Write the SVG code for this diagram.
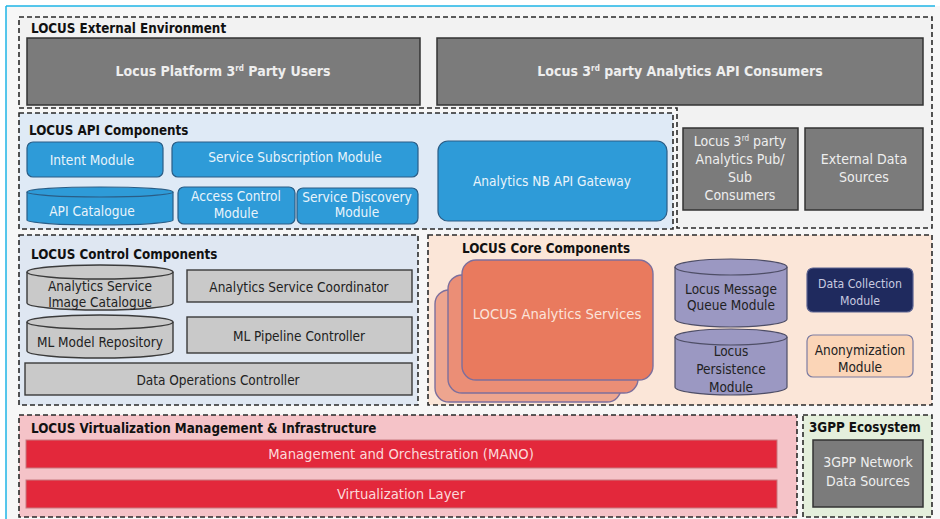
<svg xmlns="http://www.w3.org/2000/svg" width="940" height="519" viewBox="0 0 940 519">
<style>
text{font-family:"DejaVu Sans Condensed","Liberation Sans Narrow","Liberation Sans",sans-serif;text-anchor:middle}
.ttl{font-weight:bold;font-size:13.3px;fill:#111;text-anchor:start}
.grp{stroke:#2a2a2a;stroke-width:1.6;stroke-dasharray:5 3}
.dg{fill:#7b7b7b;stroke:#333;stroke-width:1.5}
.dgt{fill:#eeeeee;font-size:14px}
.blue{fill:#2e9bd8;stroke:#2a5d86;stroke-width:1.2}
.bt{fill:#e9f4fb;font-size:13.6px}
.lg{fill:#c9c9c9;stroke:#3a3a3a;stroke-width:1.4}
.lgt{fill:#222;font-size:13.5px}
.cyl{fill:#9b98c2;stroke:#4e4e66;stroke-width:1.2}
.red{fill:#e3283b;stroke:#c77a80;stroke-width:1}
.rt{fill:#fbd9da;font-size:14.7px}
.svc{stroke:#7d6f9c;stroke-width:1.4}
</style>
<rect x="0" y="0" width="940" height="519" fill="#ffffff"/>
<rect x="6" y="6" width="934" height="513" fill="#f7f7f7"/>
<line x1="6" y1="6" x2="935" y2="6" stroke="#1eb4e6" stroke-width="1.5"/>
<line x1="6" y1="6" x2="6" y2="519" stroke="#1eb4e6" stroke-width="1.5"/>

<g id="external-environment">
<path class="grp" d="M19,17 H932 V228 H677 V108 H19 Z" fill="#f2f2f2"/>
<text class="ttl" x="31" y="33" font-size="13">LOCUS External Environment</text>
</g>
<g id="platform-users">
<rect class="dg" x="27" y="38" width="393" height="67"/>
<text class="dgt" x="223" y="76" font-weight="bold" font-size="13">Locus Platform 3<tspan font-size="8" dy="-5">rd</tspan><tspan dy="5"> Party Users</tspan></text>
</g>
<g id="api-consumers">
<rect class="dg" x="437" y="38" width="486" height="67"/>
<text class="dgt" x="680" y="76" font-weight="bold" font-size="13">Locus 3<tspan font-size="8" dy="-5">rd</tspan><tspan dy="5"> party Analytics API Consumers</tspan></text>
</g>
<g id="pubsub-consumers">
<rect class="dg" x="683" y="128" width="115" height="82"/>
<text class="dgt" x="740" y="146" fill="#dddddd" font-size="13.5">Locus 3<tspan font-size="8" dy="-5">rd</tspan><tspan dy="5"> party</tspan></text>
<text class="dgt" x="740" y="164" fill="#dddddd" font-size="13.5">Analytics Pub/</text>
<text class="dgt" x="740" y="182" fill="#dddddd" font-size="13.5">Sub</text>
<text class="dgt" x="740" y="200" fill="#dddddd" font-size="13.5">Consumers</text>
</g>
<g id="external-data-sources">
<rect class="dg" x="805" y="128" width="118" height="82"/>
<text class="dgt" x="864" y="164" fill="#dddddd">External Data</text>
<text class="dgt" x="864" y="182" fill="#dddddd">Sources</text>
</g>

<g id="api-components">
<rect class="grp" x="19" y="113" width="654" height="116" fill="#dfeaf6"/>
<text class="ttl" x="29" y="135">LOCUS API Components</text>
</g>
<g id="intent-module">
<rect class="blue" x="27" y="142" width="136" height="35" rx="6"/>
<text class="bt" x="92" y="165">Intent Module</text>
</g>
<g id="service-subscription">
<rect class="blue" x="172" y="142" width="246" height="35" rx="6"/>
<text class="bt" x="295" y="162">Service Subscription Module</text>
</g>
<g id="api-catalogue">
<path class="blue" d="M27,192 A73,5 0 0 1 173,192 V220 A73,5 0 0 1 27,220 Z"/>
<path d="M27,192 A73,5 0 0 0 173,192" fill="none" stroke="#2a5d86" stroke-width="1.2"/>
<text class="bt" x="92" y="216">API Catalogue</text>
</g>
<g id="access-control">
<rect class="blue" x="178" y="187" width="117" height="37" rx="6"/>
<text class="bt" x="236" y="201">Access Control</text>
<text class="bt" x="236" y="218">Module</text>
</g>
<g id="service-discovery">
<rect class="blue" x="297" y="188" width="121" height="36" rx="6"/>
<text class="bt" x="357" y="202" font-size="10.5">Service Discovery</text>
<text class="bt" x="357" y="217" font-size="10.5">Module</text>
</g>
<g id="nb-api-gateway">
<rect class="blue" x="438" y="141" width="229" height="80" rx="10"/>
<text class="bt" x="552" y="186" font-size="15">Analytics NB API Gateway</text>
</g>

<g id="control-components">
<rect class="grp" x="19" y="235" width="399" height="170" fill="#dfe7f2"/>
<text class="ttl" x="31" y="259">LOCUS Control Components</text>
</g>
<g id="image-catalogue">
<path class="lg" d="M27,272 A73,7 0 0 1 173,272 V303 A73,7 0 0 1 27,303 Z"/>
<path d="M27,272 A73,7 0 0 0 173,272" fill="none" stroke="#3a3a3a" stroke-width="1.4"/>
<text class="lgt" x="100" y="291" font-size="12.5">Analytics Service</text>
<text class="lgt" x="100" y="307" font-size="12.5">Image Catalogue</text>
</g>
<g id="service-coordinator">
<rect class="lg" x="187" y="270" width="225" height="32"/>
<text class="lgt" x="299" y="292">Analytics Service Coordinator</text>
</g>
<g id="ml-model-repository">
<path class="lg" d="M27,322 A73,7 0 0 1 173,322 V351 A73,7 0 0 1 27,351 Z"/>
<path d="M27,322 A73,7 0 0 0 173,322" fill="none" stroke="#3a3a3a" stroke-width="1.4"/>
<text class="lgt" x="100" y="347" font-size="12.5">ML Model Repository</text>
</g>
<g id="ml-pipeline-controller">
<rect class="lg" x="187" y="317" width="225" height="36"/>
<text class="lgt" x="299" y="341" font-size="13.8">ML Pipeline Controller</text>
</g>
<g id="data-operations-controller">
<rect class="lg" x="25" y="363" width="387" height="32"/>
<text class="lgt" x="218" y="385" font-size="13">Data Operations Controller</text>
</g>

<g id="core-components">
<rect class="grp" x="428" y="235" width="504" height="170" fill="#fbe6d8"/>
<text class="ttl" x="462" y="253" font-size="13">LOCUS Core Components</text>
</g>
<g id="analytics-services">
<rect class="svc" x="435" y="290" width="186" height="112" rx="14" fill="#eda58f"/>
<rect class="svc" x="448" y="275" width="190" height="118" rx="14" fill="#eb8e76"/>
<rect class="svc" x="462" y="260" width="191" height="120" rx="14" fill="#e97a5e"/>
<text x="557" y="319" font-size="14.7" fill="#fbe3da">LOCUS Analytics Services</text>
</g>
<g id="message-queue">
<path class="cyl" d="M675,267 A56,8 0 0 1 787,267 V319 A56,8 0 0 1 675,319 Z"/>
<path d="M675,267 A56,8 0 0 0 787,267" fill="none" stroke="#4e4e66" stroke-width="1.2"/>
<text class="lgt" x="731" y="294" font-size="14">Locus Message</text>
<text class="lgt" x="731" y="310" font-size="14">Queue Module</text>
</g>
<g id="persistence">
<path class="cyl" d="M675,337 A56,8 0 0 1 787,337 V387 A56,8 0 0 1 675,387 Z"/>
<path d="M675,337 A56,8 0 0 0 787,337" fill="none" stroke="#4e4e66" stroke-width="1.2"/>
<text class="lgt" x="731" y="356" font-size="14">Locus</text>
<text class="lgt" x="731" y="374" font-size="14">Persistence</text>
<text class="lgt" x="731" y="392" font-size="14">Module</text>
</g>
<g id="data-collection">
<rect x="807" y="268" width="106" height="44" rx="6" fill="#1f2a5e" stroke="#5a6290" stroke-width="1.2"/>
<text x="860" y="288" font-size="12.2" fill="#c9cbe0">Data Collection</text>
<text x="860" y="305" font-size="12.2" fill="#c9cbe0">Module</text>
</g>
<g id="anonymization">
<rect x="807" y="335" width="106" height="42" rx="6" fill="#fbd5b7" stroke="#7c7ca2" stroke-width="1.2"/>
<text class="lgt" x="860" y="355" font-size="13">Anonymization</text>
<text class="lgt" x="860" y="372" font-size="13">Module</text>
</g>

<g id="virtualization">
<rect class="grp" x="19" y="415" width="778" height="102" fill="#f5c3c8"/>
<text class="ttl" x="31" y="433" font-size="13">LOCUS Virtualization Management &amp; Infrastructure</text>
</g>
<g id="mano">
<rect class="red" x="26" y="440" width="751" height="28"/>
<text class="rt" x="401" y="459">Management and Orchestration (MANO)</text>
</g>
<g id="virtualization-layer">
<rect class="red" x="26" y="480" width="751" height="28"/>
<text class="rt" x="401" y="499">Virtualization Layer</text>
</g>

<g id="3gpp-ecosystem">
<rect class="grp" x="803" y="415" width="129" height="102" fill="#e4efdc"/>
<text class="ttl" x="809" y="432" font-size="13">3GPP Ecosystem</text>
</g>
<g id="3gpp-network-data-sources">
<rect class="dg" x="813" y="440" width="110" height="67"/>
<text class="dgt" x="868" y="467" fill="#dddddd" font-size="15">3GPP Network</text>
<text class="dgt" x="868" y="486" fill="#dddddd" font-size="15">Data Sources</text>
</g>
<g id="connectors"/>
</svg>
